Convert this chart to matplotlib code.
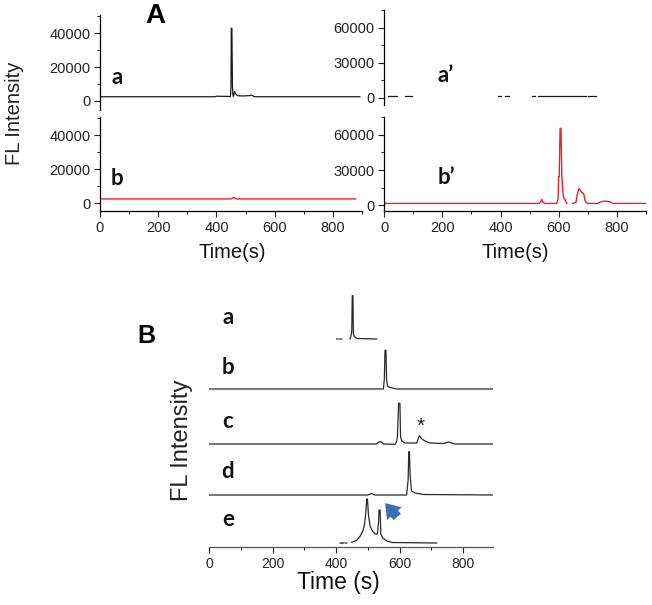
import numpy as np
import matplotlib
matplotlib.use("Agg")
import matplotlib.pyplot as plt
from matplotlib.ticker import MultipleLocator

nan = np.nan

# ---- Panel A data (time in s, FL intensity) ----
a_t = [0, 395, 400, 440, 448, 450, 451, 453, 455, 457, 459, 462, 466, 472, 480, 500, 515, 520, 526, 530, 893]
a_v = [2500, 2500, 2800, 2700, 2600, 8400, 42800, 42800, 8400, 3000, 2800, 5500, 4200, 3200, 3000, 3000, 3200, 3500, 3000, 2500, 2500]

b_t = [0, 450, 456, 460, 464, 470, 878]
b_v = [2400, 2400, 2900, 3200, 2800, 2400, 2400]

a2_t = [14, 45, nan, 72, 97, nan, 393, 400, nan, 415, 428, nan, 510, 520, nan, 530, 693, nan, 700, 728]
a2_v = [2000, 2000, nan, 2000, 2000, nan, 2000, 2000, nan, 2000, 2000, nan, 2000, 2000, nan, 2000, 2000, nan, 2000, 2000]

b2_t = [0, 532, 538, 542, 546, 552, 593, 598, 600, 602, 605, 608, 611, 616, 621, 628, nan,
        648, 660, 664, 670, 675, 680, 686, 691, 694, 699, 735, 745, 760, 777, 787, 900]
b2_v = [1400, 1400, 2500, 4900, 2500, 1400, 1400, 5000, 24300, 24300, 65700, 65700, 24300, 7100, 5000, 1400, nan,
        1400, 2500, 9000, 14300, 12500, 10600, 10000, 3700, 2500, 1400, 1400, 2800, 3400, 2800, 1400, 1400]

# ---- Panel B data (time in s, signal height a.u.) ----
Ba_t = [402, 406, nan, 412, 418, nan, 444, 447, 449.5, 451, 453, 454.5, 457, 465, 528]
Ba_h = [0, 0, nan, 0, 0, nan, 0, 3, 8, 43.3, 43.3, 5, 2.7, 0.5, 0]
Bb_t = [0, 549, 552, 554, 557, 559, 562, 570, 591, 893]
Bb_h = [0, 0, 10, 38.7, 38.7, 10, 2.7, 1.5, 0, 0]
Bc_t = [0, 527, 535, 539, 543, 550, 586, 591, 593, 597, 599.6, 601, 603, 607, 617, 654, 662, 670, 680, 696,
        738, 748, 754, 764, 775, 893]
Bc_h = [0, 0, 2.0, 2.3, 2.0, 0, -0.3, 3, 7.3, 40.7, 40.7, 40.7, 7.3, 3, 1, 1, 8.3, 5, 3, 1,
        0.5, 1.5, 2, 1, 0, 0]
Bd_t = [0, 500, 512, 522, 622, 626.8, 629, 631, 633, 637.4, 649, 675, 893]
Bd_h = [0, 0, 1.5, 0, 0, 15, 43.3, 43.3, 20, 4, 2, 0.5, 0]
Be_t = [412.6, 417, nan, 420, 423, nan, 428, 434, nan, 449.4, 465, 475.6, 484, 489.3, 493.5, 496.7, 498.8, 502,
        507, 514.5, 523, 530, 533.5, 535.4, 538.6, 540.8, 547, 559.7, 575.5, 717]
Be_h = [0, 0, nan, 0, 0, nan, 0, 0, nan, 0.7, 2.7, 6.7, 12, 18, 30, 44, 44, 28,
        17, 12, 9, 9, 20, 33, 33, 9, 5, 2, 0.5, 0]
B_traces = [(Ba_t, Ba_h), (Bb_t, Bb_h), (Bc_t, Bc_h), (Bd_t, Bd_h), (Be_t, Be_h)]
B_offsets = [208, 158, 103, 52, 4]
B_labels = ["a", "b", "c", "d", "e"]

W, H = 652, 605
fig = plt.figure(figsize=(W / 100, H / 100), dpi=100)
plt.rcParams['font.family'] = ['Liberation Sans', 'DejaVu Sans']

def rect(x0, y0, x1, y1):
    # pixel box (top-left origin) -> figure fraction
    return [x0 / W, 1 - y1 / H, (x1 - x0) / W, (y1 - y0) / H]

def style(ax, xaxis, yticks, yminor, tsize=10.5):
    for s in ["top", "right"]:
        ax.spines[s].set_visible(False)
    ax.spines["left"].set_linewidth(0.9)
    ax.spines["bottom"].set_linewidth(0.9)
    ax.set_xlim(0, 900)
    ax.set_yticks(yticks)
    ax.yaxis.set_minor_locator(MultipleLocator(yminor))
    ax.tick_params(which="major", direction="out", length=4, width=0.8, labelsize=tsize, pad=3, colors="#222")
    ax.tick_params(which="minor", direction="out", length=2.2, width=0.7, colors="#222")
    if xaxis:
        ax.set_xticks([0, 200, 400, 600, 800])
        ax.xaxis.set_minor_locator(MultipleLocator(100))
    else:
        ax.spines["bottom"].set_visible(False)
        ax.set_xticks([])
        ax.xaxis.set_minor_locator(plt.NullLocator())

black = "#1a1a1a"
red = "#e8232b"
lab_font = dict(family=["Lato", "DejaVu Sans"], fontweight="bold", fontsize=16, color="#111")

ax1 = fig.add_axes(rect(100, 15, 362, 110))
ax1.plot(a_t, a_v, color=black, lw=0.9)
ax1.set_ylim(-5300, 50600)
style(ax1, False, [0, 20000, 40000], 10000)

ax2 = fig.add_axes(rect(100, 117, 362, 211))
ax2.plot(b_t, b_v, color=red, lw=1.0)
ax2.set_ylim(-4700, 50600)
style(ax2, True, [0, 20000, 40000], 10000)

ax3 = fig.add_axes(rect(384.3, 10, 645.8, 105))
ax3.plot(a2_t, a2_v, color=black, lw=0.9)
ax3.set_ylim(-6000, 75400)
style(ax3, False, [0, 30000, 60000], 15000)

ax4 = fig.add_axes(rect(384.3, 117, 645.8, 211))
ax4.plot(b2_t, b2_v, color=red, lw=1.0)
ax4.set_ylim(-5100, 75400)
style(ax4, True, [0, 30000, 60000], 15000)

# panel B
axB = fig.add_axes(rect(209, 290, 493, 547))
for (t, h), off in zip(B_traces, B_offsets):
    axB.plot(t, np.array(h) + off, color="#2a2a2a", lw=0.9)
axB.set_xlim(0, 894)
axB.set_ylim(0, 257)
for s in ["top", "right", "left"]:
    axB.spines[s].set_visible(False)
axB.spines["bottom"].set_linewidth(0.9)
axB.spines["bottom"].set_color("#555")
axB.set_yticks([])
axB.set_xticks([0, 200, 400, 600, 800])
axB.xaxis.set_minor_locator(MultipleLocator(100))
axB.tick_params(which="major", direction="out", length=4, width=0.8, labelsize=10, pad=3, colors="#222")
axB.tick_params(which="minor", direction="out", length=2.2, width=0.7, colors="#222")
axB.text(665, 121, "*", fontsize=15, ha="center", va="center", color="#222")
axB.annotate("", xy=(549, 46), xytext=(598, 28),
             arrowprops=dict(arrowstyle="simple,head_width=1.4,head_length=1.0,tail_width=0.7",
                             color="#3b6db3", mutation_scale=10, lw=0))

def ftext(x, y, s, **kw):
    fig.text(x / W, 1 - y / H, s, ha="center", va="center", **kw)

ftext(155, 16, "A", fontsize=20, fontweight="bold")
ftext(146, 336, "B", fontsize=18, fontweight="bold")
ftext(15, 113, "FL Intensity", fontsize=14.5, rotation=90, color="#222")
ftext(182, 440, "FL Intensity", fontsize=17, rotation=90, color="#222")
ftext(232, 252, "Time(s)", fontsize=14.5, color="#111")
ftext(515, 252, "Time(s)", fontsize=14.5, color="#111")
ftext(338, 583, "Time (s)", fontsize=16.5, color="#111")

ftext(117, 77, "a", **lab_font)
ftext(117, 179, "b", **lab_font)
ftext(446, 76, "a\u2019", **lab_font)
ftext(446, 177, "b\u2019", **lab_font)
for lab, y in zip(B_labels, [317, 367, 421, 472, 519]):
    ftext(228, y, lab, **lab_font)

fig.savefig("out.png", dpi=100)
